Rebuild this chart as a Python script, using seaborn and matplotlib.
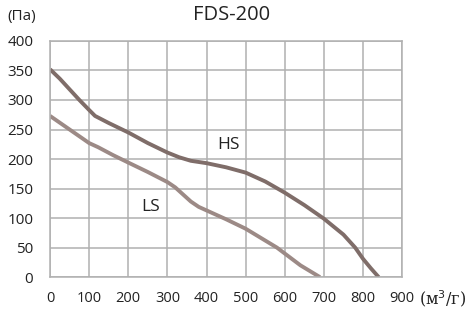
#!/usr/bin/env python3
# FDS-200 fan curve (pressure vs flow), HS and LS speeds
import matplotlib
matplotlib.use("Agg")
import matplotlib.pyplot as plt
import pandas as pd
import seaborn as sns

#---------------------------------------------------------
# DATA
#---------------------------------------------------------
hs_flow = [0, 25, 50, 75, 100, 115, 150, 200, 250, 300, 330, 360, 400, 450, 500,
           550, 600, 650, 700, 750, 780, 800, 820, 840]
hs_pressure = [352, 336, 318, 300, 283, 273, 261, 245, 227, 211, 203, 197, 193, 186, 177,
               162, 143, 122, 99, 72, 50, 31, 15, 0]

ls_flow = [0, 50, 100, 123, 160, 200, 250, 300, 320, 340, 360, 380, 400, 450, 500,
           550, 580, 600, 640, 690]
ls_pressure = [273, 250, 227, 220, 207, 194, 178, 161, 152, 140, 128, 119, 113, 98, 82,
               62, 50, 40, 20, 0]

x_ticks = [0, 100, 200, 300, 400, 500, 600, 700, 800, 900]
y_ticks = [0, 50, 100, 150, 200, 250, 300, 350, 400]

sns.set_style("white")
plt.rcParams['font.family'] = ['Open Sans', 'DejaVu Sans']

df = pd.concat([
    pd.DataFrame({'flow': hs_flow, 'pressure': hs_pressure, 'speed': 'HS'}),
    pd.DataFrame({'flow': ls_flow, 'pressure': ls_pressure, 'speed': 'LS'}),
])

fig = plt.figure(figsize=(4.72, 3.10), dpi=100)
ax = fig.add_axes([0.106, 0.106, 0.746, 0.762])

sns.lineplot(data=df, x='flow', y='pressure', hue='speed',
             palette={'HS': '#7f6d69', 'LS': '#9c8a86'},
             linewidth=2.8, legend=False, ax=ax, sort=False,
             solid_joinstyle='round', solid_capstyle='butt')

ax.set_xlim(0, 900)
ax.set_ylim(0, 400)
ax.set_xticks(x_ticks)
ax.set_yticks(y_ticks)
ax.grid(True, color='#b0b0b0', linewidth=1.1)
ax.set_axisbelow(True)
for s in ax.spines.values():
    s.set_color('#b0b0b0')
    s.set_linewidth(1.1)
ax.tick_params(length=0, colors='#222222')
ax.tick_params(axis='y', pad=12, labelsize=11)
ax.tick_params(axis='x', pad=10, labelsize=10.5)
ax.set_xlabel('')
ax.set_ylabel('')

ax.text(457, 224, 'HS', fontsize=12.5, color='#222222', ha='center', va='center')
ax.text(258, 119, 'LS', fontsize=12.5, color='#222222', ha='center', va='center')

fig.text(0.49, 0.95, 'FDS-200', ha='center', va='center', fontsize=14.5, color='#222222')
fig.text(0.047, 0.947, '(Па)', ha='center', va='center', fontsize=11, color='#222222')
fig.text(0.888, 0.038, '(м$^3$/г)', ha='left', va='center', fontsize=11.5,
         family='DejaVu Serif', color='#222222')

fig.savefig('out.png', dpi=100)
